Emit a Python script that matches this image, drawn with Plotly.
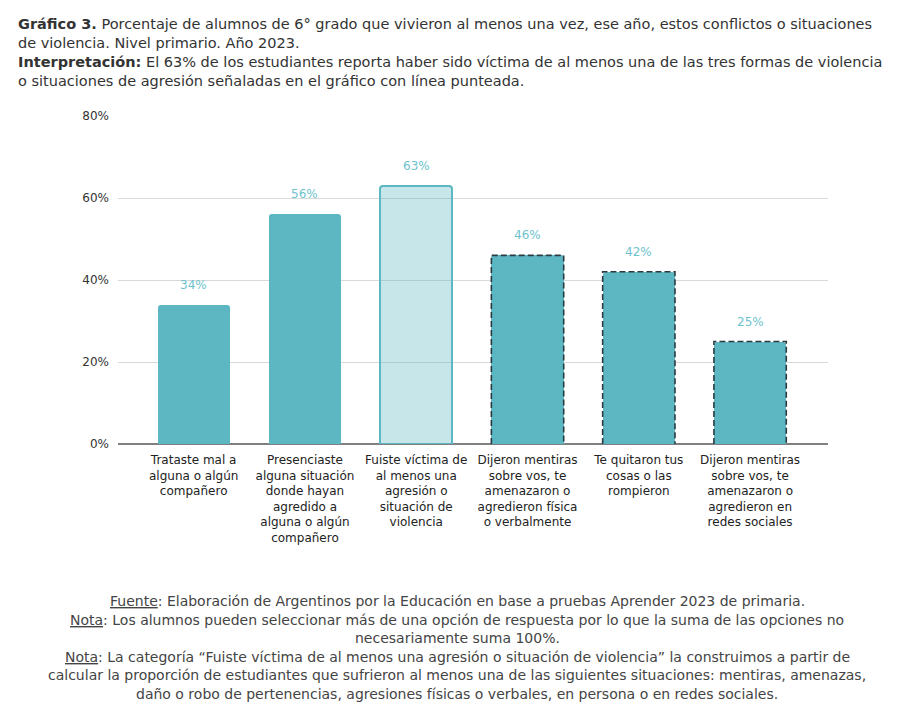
import plotly.graph_objects as go

# categories (tick labels) and values
CATEGORIES = [
    "Trataste mal a<br>alguna o algún<br>compañero",
    "Presenciaste<br>alguna situación<br>donde hayan<br>agredido a<br>alguna o algún<br>compañero",
    "Fuiste víctima de<br>al menos una<br>agresión o<br>situación de<br>violencia",
    "Dijeron mentiras<br>sobre vos, te<br>amenazaron o<br>agredieron física<br>o verbalmente",
    "Te quitaron tus<br>cosas o las<br>rompieron",
    "Dijeron mentiras<br>sobre vos, te<br>amenazaron o<br>agredieron en<br>redes sociales",
]
VALUES = [34, 56, 63, 46, 42, 25]
# 0 = plain bar, 1 = highlighted summary bar, 2 = dashed-outline bar
KIND = [0, 0, 1, 2, 2, 2]
Y_TICKS = [0, 20, 40, 60, 80]

TITLE_LINES = [
    "<b>Gráfico 3.</b> Porcentaje de alumnos de 6° grado que vivieron al menos una vez, ese año, estos conflictos o situaciones",
    "de violencia. Nivel primario. Año 2023.",
    "<b>Interpretación:</b> El 63% de los estudiantes reporta haber sido víctima de al menos una de las tres formas de violencia",
    "o situaciones de agresión señaladas en el gráfico con línea punteada.",
]
FOOTER_LINES = [
    "<u>Fuente</u>: Elaboración de Argentinos por la Educación en base a pruebas Aprender 2023 de primaria.",
    "<u>Nota</u>: Los alumnos pueden seleccionar más de una opción de respuesta por lo que la suma de las opciones no",
    "necesariamente suma 100%.",
    "<u>Nota</u>: La categoría “Fuiste víctima de al menos una agresión o situación de violencia” la construimos a partir de",
    "calcular la proporción de estudiantes que sufrieron al menos una de las siguientes situaciones: mentiras, amenazas,",
    "daño o robo de pertenencias, agresiones físicas o verbales, en persona o en redes sociales.",
]

TEAL = "#5cb7c2"
LIGHT = "rgba(92,183,194,0.35)"
LABEL = "#6dc3cc"
DARK = "#2b3a40"
BAR_W = 0.65
FONT = "DejaVu Sans"
TEXT_FONT = "DejaVu Sans"

W, H = 914, 724
ML, MR, MT, MB = 110, 94, 108, 288  # page body adds ~8px offset

xs = list(range(len(VALUES)))

fig = go.Figure()
fig.add_trace(
    go.Bar(
        x=xs,
        y=VALUES,
        width=BAR_W,
        marker=dict(
            color=[LIGHT if k == 1 else TEAL for k in KIND],
            line=dict(color=[TEAL if k == 1 else "rgba(0,0,0,0)" for k in KIND], width=2),
            cornerradius=3,
        ),
        hoverinfo="skip",
        showlegend=False,
    )
)

# dashed outlines for the three bars that make up the summary category
for x, v, k in zip(xs, VALUES, KIND):
    if k != 2:
        continue
    h = BAR_W / 2
    fig.add_trace(
        go.Scatter(
            x=[x - h, x - h, x + h, x + h],
            y=[0, v, v, 0],
            mode="lines",
            line=dict(color=DARK, width=1.6, dash="6px,3px"),
            hoverinfo="skip",
            showlegend=False,
        )
    )

for x, v in zip(xs, VALUES):
    fig.add_annotation(
        x=x, y=v, text=f"{v}%", showarrow=False, yshift=20,
        font=dict(family=FONT, size=12, color=LABEL),
    )

# text lines placed one by one so the line spacing matches
plot_h = H - MT - MB
plot_w = W - ML - MR
for i, line in enumerate(TITLE_LINES):
    fig.add_annotation(
        xref="paper", yref="paper", x=(8 - ML) / plot_w, y=1 + (MT - 16 - 19 * i) / plot_h,
        xanchor="left", yanchor="middle", align="left", showarrow=False,
        text=line, font=dict(family=TEXT_FONT, size=14.5, color="#333333"),
    )
for i, line in enumerate(FOOTER_LINES):
    fig.add_annotation(
        xref="paper", yref="paper", x=(449 - ML) / plot_w, y=-(593 - MT - plot_h + 18.6 * i) / plot_h,
        xanchor="center", yanchor="middle", align="center", showarrow=False,
        text=line, font=dict(family=TEXT_FONT, size=14, color="#444444"),
    )

fig.update_layout(
    width=W,
    height=H,
    margin=dict(l=ML, r=MR, t=MT, b=MB),
    plot_bgcolor="white",
    paper_bgcolor="white",
    bargap=0,
    xaxis=dict(
        range=[-0.68, 5.70],
        tickvals=xs,
        ticktext=CATEGORIES,
        tickfont=dict(family=FONT, size=12, color="#222222"),
        showgrid=False,
        zeroline=False,
        showline=False,
        ticks="",
        ticklabelstandoff=7,
    ),
    yaxis=dict(
        range=[0, 80],
        tickvals=Y_TICKS,
        ticktext=[f"{t}%" for t in Y_TICKS],
        tickfont=dict(family=FONT, size=12, color="#333333"),
        gridcolor="#d9d9d9",
        gridwidth=1,
        zeroline=True,
        zerolinecolor="#808080",
        zerolinewidth=1.5,
        ticks="",
        ticklabelstandoff=8,
    ),
)

fig.write_html("out.html")
